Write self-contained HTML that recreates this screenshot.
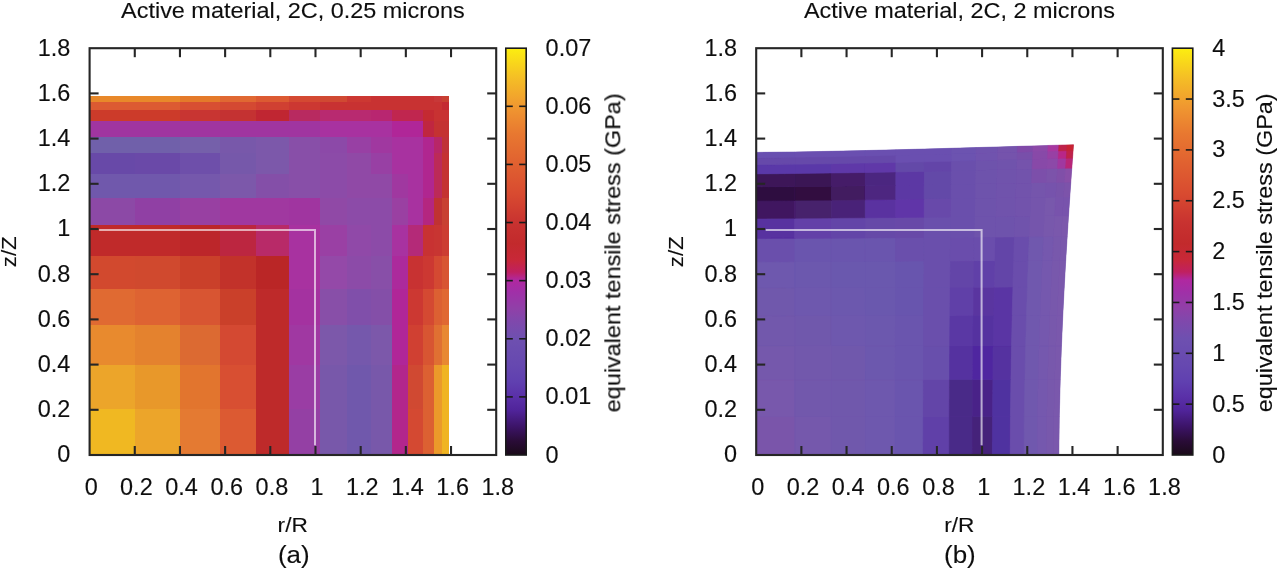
<!DOCTYPE html><html><head><meta charset="utf-8"><style>html,body{margin:0;padding:0;background:#fff;width:1280px;height:571px;overflow:hidden}svg{display:block}</style></head><body>
<svg width="1280" height="571" viewBox="0 0 1280 571" font-family="&quot;Liberation Sans&quot;, sans-serif">
<rect width="1280" height="571" fill="#fff"/>
<defs><filter id="bl" x="-5%" y="-5%" width="110%" height="110%"><feGaussianBlur stdDeviation="0.7"/></filter><filter id="tb" x="-2%" y="-2%" width="104%" height="104%"><feGaussianBlur stdDeviation="0.45"/></filter></defs>
<g filter="url(#bl)"><g shape-rendering="crispEdges"><rect x="89.60" y="409.12" width="46.16" height="46.18" fill="#f0b822"/><rect x="135.46" y="409.12" width="44.35" height="46.18" fill="#eca52a"/><rect x="179.50" y="409.12" width="40.51" height="46.18" fill="#e47a30"/><rect x="219.71" y="409.12" width="36.22" height="46.18" fill="#dc5a30"/><rect x="255.63" y="409.12" width="33.51" height="46.18" fill="#be2a2c"/><rect x="288.83" y="409.12" width="31.25" height="46.18" fill="#9440a4"/><rect x="319.78" y="409.12" width="27.63" height="46.18" fill="#7858aa"/><rect x="347.11" y="409.12" width="24.02" height="46.18" fill="#7058ac"/><rect x="370.83" y="409.12" width="21.31" height="46.18" fill="#7858aa"/><rect x="391.84" y="409.12" width="16.56" height="46.18" fill="#b2288c"/><rect x="408.10" y="409.12" width="15.66" height="46.18" fill="#d44830"/><rect x="423.46" y="409.12" width="11.14" height="46.18" fill="#dc6030"/><rect x="434.31" y="409.12" width="8.43" height="46.18" fill="#eb9a2c"/><rect x="442.44" y="409.12" width="6.62" height="46.18" fill="#f0b420"/><rect x="89.60" y="365.05" width="46.16" height="44.37" fill="#eca52a"/><rect x="135.46" y="365.05" width="44.35" height="44.37" fill="#e8982c"/><rect x="179.50" y="365.05" width="40.51" height="44.37" fill="#e2742e"/><rect x="219.71" y="365.05" width="36.22" height="44.37" fill="#d85030"/><rect x="255.63" y="365.05" width="33.51" height="44.37" fill="#be2a2c"/><rect x="288.83" y="365.05" width="31.25" height="44.37" fill="#9a3ca4"/><rect x="319.78" y="365.05" width="27.63" height="44.37" fill="#7858aa"/><rect x="347.11" y="365.05" width="24.02" height="44.37" fill="#7058ac"/><rect x="370.83" y="365.05" width="21.31" height="44.37" fill="#7858aa"/><rect x="391.84" y="365.05" width="16.56" height="44.37" fill="#b2288c"/><rect x="408.10" y="365.05" width="15.66" height="44.37" fill="#d04830"/><rect x="423.46" y="365.05" width="11.14" height="44.37" fill="#dc6030"/><rect x="434.31" y="365.05" width="8.43" height="44.37" fill="#eb9a2c"/><rect x="442.44" y="365.05" width="6.62" height="44.37" fill="#f0b420"/><rect x="89.60" y="324.82" width="46.16" height="40.53" fill="#e88a2e"/><rect x="135.46" y="324.82" width="44.35" height="40.53" fill="#e4822e"/><rect x="179.50" y="324.82" width="40.51" height="40.53" fill="#dc6a30"/><rect x="219.71" y="324.82" width="36.22" height="40.53" fill="#d44830"/><rect x="255.63" y="324.82" width="33.51" height="40.53" fill="#be2a2c"/><rect x="288.83" y="324.82" width="31.25" height="40.53" fill="#a038a2"/><rect x="319.78" y="324.82" width="27.63" height="40.53" fill="#7c58aa"/><rect x="347.11" y="324.82" width="24.02" height="40.53" fill="#7458ac"/><rect x="370.83" y="324.82" width="21.31" height="40.53" fill="#7c58aa"/><rect x="391.84" y="324.82" width="16.56" height="40.53" fill="#b02898"/><rect x="408.10" y="324.82" width="15.66" height="40.53" fill="#d04030"/><rect x="423.46" y="324.82" width="11.14" height="40.53" fill="#d85530"/><rect x="434.31" y="324.82" width="8.43" height="40.53" fill="#e07030"/><rect x="442.44" y="324.82" width="6.62" height="40.53" fill="#e88830"/><rect x="89.60" y="288.89" width="46.16" height="36.23" fill="#e06a30"/><rect x="135.46" y="288.89" width="44.35" height="36.23" fill="#de6430"/><rect x="179.50" y="288.89" width="40.51" height="36.23" fill="#d85530"/><rect x="219.71" y="288.89" width="36.22" height="36.23" fill="#ca402c"/><rect x="255.63" y="288.89" width="33.51" height="36.23" fill="#be2a2c"/><rect x="288.83" y="288.89" width="31.25" height="36.23" fill="#a432a0"/><rect x="319.78" y="288.89" width="27.63" height="36.23" fill="#8850a8"/><rect x="347.11" y="288.89" width="24.02" height="36.23" fill="#8050aa"/><rect x="370.83" y="288.89" width="21.31" height="36.23" fill="#8450a8"/><rect x="391.84" y="288.89" width="16.56" height="36.23" fill="#b02898"/><rect x="408.10" y="288.89" width="15.66" height="36.23" fill="#cc3830"/><rect x="423.46" y="288.89" width="11.14" height="36.23" fill="#d44830"/><rect x="434.31" y="288.89" width="8.43" height="36.23" fill="#dc6030"/><rect x="442.44" y="288.89" width="6.62" height="36.23" fill="#e06830"/><rect x="89.60" y="255.67" width="46.16" height="33.52" fill="#d24a2e"/><rect x="135.46" y="255.67" width="44.35" height="33.52" fill="#d0482e"/><rect x="179.50" y="255.67" width="40.51" height="33.52" fill="#ca402c"/><rect x="219.71" y="255.67" width="36.22" height="33.52" fill="#c2302c"/><rect x="255.63" y="255.67" width="33.51" height="33.52" fill="#ba2828"/><rect x="288.83" y="255.67" width="31.25" height="33.52" fill="#a830a0"/><rect x="319.78" y="255.67" width="27.63" height="33.52" fill="#9448a8"/><rect x="347.11" y="255.67" width="24.02" height="33.52" fill="#8c4ca8"/><rect x="370.83" y="255.67" width="21.31" height="33.52" fill="#8850a8"/><rect x="391.84" y="255.67" width="16.56" height="33.52" fill="#ac2c9c"/><rect x="408.10" y="255.67" width="15.66" height="33.52" fill="#c83030"/><rect x="423.46" y="255.67" width="11.14" height="33.52" fill="#cc3830"/><rect x="434.31" y="255.67" width="8.43" height="33.52" fill="#d44830"/><rect x="442.44" y="255.67" width="6.62" height="33.52" fill="#d85530"/><rect x="89.60" y="224.71" width="46.16" height="31.26" fill="#c02a2c"/><rect x="135.46" y="224.71" width="44.35" height="31.26" fill="#c02a2c"/><rect x="179.50" y="224.71" width="40.51" height="31.26" fill="#bc262a"/><rect x="219.71" y="224.71" width="36.22" height="31.26" fill="#bc2840"/><rect x="255.63" y="224.71" width="33.51" height="31.26" fill="#b82a68"/><rect x="288.83" y="224.71" width="31.25" height="31.26" fill="#a830a0"/><rect x="319.78" y="224.71" width="27.63" height="31.26" fill="#9a40a4"/><rect x="347.11" y="224.71" width="24.02" height="31.26" fill="#9048a8"/><rect x="370.83" y="224.71" width="21.31" height="31.26" fill="#8c4ca8"/><rect x="391.84" y="224.71" width="16.56" height="31.26" fill="#a830a0"/><rect x="408.10" y="224.71" width="15.66" height="31.26" fill="#b42a78"/><rect x="423.46" y="224.71" width="11.14" height="31.26" fill="#c83030"/><rect x="434.31" y="224.71" width="8.43" height="31.26" fill="#c83430"/><rect x="442.44" y="224.71" width="6.62" height="31.26" fill="#cc3c30"/><rect x="89.60" y="197.36" width="46.16" height="27.65" fill="#8c48a6"/><rect x="135.46" y="197.36" width="44.35" height="27.65" fill="#9040a4"/><rect x="179.50" y="197.36" width="40.51" height="27.65" fill="#9840a2"/><rect x="219.71" y="197.36" width="36.22" height="27.65" fill="#a038a0"/><rect x="255.63" y="197.36" width="33.51" height="27.65" fill="#a038a0"/><rect x="288.83" y="197.36" width="31.25" height="27.65" fill="#a035a0"/><rect x="319.78" y="197.36" width="27.63" height="27.65" fill="#9048a6"/><rect x="347.11" y="197.36" width="24.02" height="27.65" fill="#8c4ca8"/><rect x="370.83" y="197.36" width="21.31" height="27.65" fill="#8c4ca8"/><rect x="391.84" y="197.36" width="16.56" height="27.65" fill="#9a40a2"/><rect x="408.10" y="197.36" width="15.66" height="27.65" fill="#a830a0"/><rect x="423.46" y="197.36" width="11.14" height="27.65" fill="#b42880"/><rect x="434.31" y="197.36" width="8.43" height="27.65" fill="#c03030"/><rect x="442.44" y="197.36" width="6.62" height="27.65" fill="#c84030"/><rect x="89.60" y="173.63" width="46.16" height="24.03" fill="#7058ac"/><rect x="135.46" y="173.63" width="44.35" height="24.03" fill="#7058ac"/><rect x="179.50" y="173.63" width="40.51" height="24.03" fill="#7458ac"/><rect x="219.71" y="173.63" width="36.22" height="24.03" fill="#7c58aa"/><rect x="255.63" y="173.63" width="33.51" height="24.03" fill="#8450a8"/><rect x="288.83" y="173.63" width="31.25" height="24.03" fill="#8850a8"/><rect x="319.78" y="173.63" width="27.63" height="24.03" fill="#8c4ca8"/><rect x="347.11" y="173.63" width="24.02" height="24.03" fill="#9048a6"/><rect x="370.83" y="173.63" width="21.31" height="24.03" fill="#9048a6"/><rect x="391.84" y="173.63" width="16.56" height="24.03" fill="#a038a0"/><rect x="408.10" y="173.63" width="15.66" height="24.03" fill="#a830a0"/><rect x="423.46" y="173.63" width="11.14" height="24.03" fill="#b02890"/><rect x="434.31" y="173.63" width="8.43" height="24.03" fill="#bc2a58"/><rect x="442.44" y="173.63" width="6.62" height="24.03" fill="#c43030"/><rect x="89.60" y="152.61" width="46.16" height="21.32" fill="#6848a8"/><rect x="135.46" y="152.61" width="44.35" height="21.32" fill="#6a4aa8"/><rect x="179.50" y="152.61" width="40.51" height="21.32" fill="#6e50aa"/><rect x="219.71" y="152.61" width="36.22" height="21.32" fill="#7658aa"/><rect x="255.63" y="152.61" width="33.51" height="21.32" fill="#7c58aa"/><rect x="288.83" y="152.61" width="31.25" height="21.32" fill="#8850a8"/><rect x="319.78" y="152.61" width="27.63" height="21.32" fill="#8c4ca8"/><rect x="347.11" y="152.61" width="24.02" height="21.32" fill="#9048a6"/><rect x="370.83" y="152.61" width="21.31" height="21.32" fill="#9840a4"/><rect x="391.84" y="152.61" width="16.56" height="21.32" fill="#a830a0"/><rect x="408.10" y="152.61" width="15.66" height="21.32" fill="#a830a0"/><rect x="423.46" y="152.61" width="11.14" height="21.32" fill="#b02890"/><rect x="434.31" y="152.61" width="8.43" height="21.32" fill="#bc2a58"/><rect x="442.44" y="152.61" width="6.62" height="21.32" fill="#c43030"/><rect x="89.60" y="136.34" width="46.16" height="16.57" fill="#7060aa"/><rect x="135.46" y="136.34" width="44.35" height="16.57" fill="#7060aa"/><rect x="179.50" y="136.34" width="40.51" height="16.57" fill="#7460aa"/><rect x="219.71" y="136.34" width="36.22" height="16.57" fill="#7858aa"/><rect x="255.63" y="136.34" width="33.51" height="16.57" fill="#7c58aa"/><rect x="288.83" y="136.34" width="31.25" height="16.57" fill="#8850a8"/><rect x="319.78" y="136.34" width="27.63" height="16.57" fill="#8c4aa8"/><rect x="347.11" y="136.34" width="24.02" height="16.57" fill="#9840a4"/><rect x="370.83" y="136.34" width="21.31" height="16.57" fill="#a038a0"/><rect x="391.84" y="136.34" width="16.56" height="16.57" fill="#a830a0"/><rect x="408.10" y="136.34" width="15.66" height="16.57" fill="#a830a0"/><rect x="423.46" y="136.34" width="11.14" height="16.57" fill="#b02890"/><rect x="434.31" y="136.34" width="8.43" height="16.57" fill="#b82868"/><rect x="442.44" y="136.34" width="6.62" height="16.57" fill="#c03038"/><rect x="89.60" y="120.97" width="46.16" height="15.67" fill="#a035a0"/><rect x="135.46" y="120.97" width="44.35" height="15.67" fill="#a035a0"/><rect x="179.50" y="120.97" width="40.51" height="15.67" fill="#a035a0"/><rect x="219.71" y="120.97" width="36.22" height="15.67" fill="#a035a0"/><rect x="255.63" y="120.97" width="33.51" height="15.67" fill="#a035a0"/><rect x="288.83" y="120.97" width="31.25" height="15.67" fill="#a035a0"/><rect x="319.78" y="120.97" width="27.63" height="15.67" fill="#a830a0"/><rect x="347.11" y="120.97" width="24.02" height="15.67" fill="#a830a0"/><rect x="370.83" y="120.97" width="21.31" height="15.67" fill="#a830a0"/><rect x="391.84" y="120.97" width="16.56" height="15.67" fill="#b02898"/><rect x="408.10" y="120.97" width="15.66" height="15.67" fill="#b02898"/><rect x="423.46" y="120.97" width="11.14" height="15.67" fill="#c02840"/><rect x="434.31" y="120.97" width="8.43" height="15.67" fill="#c43030"/><rect x="442.44" y="120.97" width="6.62" height="15.67" fill="#c43030"/><rect x="89.60" y="110.12" width="46.16" height="11.15" fill="#cc3a2c"/><rect x="135.46" y="110.12" width="44.35" height="11.15" fill="#cc3a2c"/><rect x="179.50" y="110.12" width="40.51" height="11.15" fill="#c83430"/><rect x="219.71" y="110.12" width="36.22" height="11.15" fill="#c43030"/><rect x="255.63" y="110.12" width="33.51" height="11.15" fill="#c02830"/><rect x="288.83" y="110.12" width="31.25" height="11.15" fill="#b82a60"/><rect x="319.78" y="110.12" width="27.63" height="11.15" fill="#b82a70"/><rect x="347.11" y="110.12" width="24.02" height="11.15" fill="#b82a70"/><rect x="370.83" y="110.12" width="21.31" height="11.15" fill="#b82870"/><rect x="391.84" y="110.12" width="16.56" height="11.15" fill="#c02850"/><rect x="408.10" y="110.12" width="15.66" height="11.15" fill="#c02850"/><rect x="423.46" y="110.12" width="11.14" height="11.15" fill="#c42c30"/><rect x="434.31" y="110.12" width="8.43" height="11.15" fill="#c83030"/><rect x="442.44" y="110.12" width="6.62" height="11.15" fill="#c83030"/><rect x="89.60" y="101.99" width="46.16" height="8.44" fill="#dc5a30"/><rect x="135.46" y="101.99" width="44.35" height="8.44" fill="#dc5a30"/><rect x="179.50" y="101.99" width="40.51" height="8.44" fill="#d85030"/><rect x="219.71" y="101.99" width="36.22" height="8.44" fill="#d44830"/><rect x="255.63" y="101.99" width="33.51" height="8.44" fill="#d04030"/><rect x="288.83" y="101.99" width="31.25" height="8.44" fill="#cc3830"/><rect x="319.78" y="101.99" width="27.63" height="8.44" fill="#c83030"/><rect x="347.11" y="101.99" width="24.02" height="8.44" fill="#c83030"/><rect x="370.83" y="101.99" width="21.31" height="8.44" fill="#c83030"/><rect x="391.84" y="101.99" width="16.56" height="8.44" fill="#c83030"/><rect x="408.10" y="101.99" width="15.66" height="8.44" fill="#c83030"/><rect x="423.46" y="101.99" width="11.14" height="8.44" fill="#c83030"/><rect x="434.31" y="101.99" width="8.43" height="8.44" fill="#c83030"/><rect x="442.44" y="101.99" width="6.62" height="8.44" fill="#c42c30"/><rect x="89.60" y="95.66" width="46.16" height="6.63" fill="#e8882a"/><rect x="135.46" y="95.66" width="44.35" height="6.63" fill="#e8882a"/><rect x="179.50" y="95.66" width="40.51" height="6.63" fill="#e47a2c"/><rect x="219.71" y="95.66" width="36.22" height="6.63" fill="#e06830"/><rect x="255.63" y="95.66" width="33.51" height="6.63" fill="#dc5a30"/><rect x="288.83" y="95.66" width="31.25" height="6.63" fill="#d44a30"/><rect x="319.78" y="95.66" width="27.63" height="6.63" fill="#d04a30"/><rect x="347.11" y="95.66" width="24.02" height="6.63" fill="#cc3830"/><rect x="370.83" y="95.66" width="21.31" height="6.63" fill="#c83030"/><rect x="391.84" y="95.66" width="16.56" height="6.63" fill="#c83030"/><rect x="408.10" y="95.66" width="15.66" height="6.63" fill="#c83030"/><rect x="423.46" y="95.66" width="11.14" height="6.63" fill="#c83030"/><rect x="434.31" y="95.66" width="8.43" height="6.63" fill="#c83838"/><rect x="442.44" y="95.66" width="6.62" height="6.63" fill="#c84030"/></g><g><polygon points="756.20,455.00 794.58,455.00 831.46,455.00 865.14,455.00 895.26,455.00 923.15,455.00 949.20,455.00 972.28,455.00 992.36,455.00 1010.19,455.00 1024.04,455.00 1037.16,455.00 1046.44,455.00 1053.42,455.00 1058.85,455.00 1059.30,416.51 1060.25,379.50 1061.47,345.63 1062.81,315.23 1064.24,286.93 1065.74,260.30 1067.19,236.51 1068.54,215.62 1069.80,196.88 1070.82,182.19 1071.82,168.17 1072.54,158.17 1073.10,150.61 1073.54,144.70 1067.09,144.89 1058.90,145.13 1048.12,145.45 1033.12,145.89 1017.56,146.35 997.87,146.93 976.16,147.56 951.68,148.26 924.54,149.02 895.93,149.77 865.39,150.53 831.52,151.28 794.59,151.95 756.20,152.38 756.20,157.77 756.20,164.69 756.20,173.91 756.20,186.95 756.20,200.73 756.20,218.51 756.20,238.54 756.20,261.59 756.20,287.65 756.20,315.58 756.20,345.76 756.20,379.53 756.20,416.51" fill="#6a50ac"/><polygon points="756.20,455.00 794.58,455.00 794.58,416.51 756.20,416.51" fill="#7a55aa" stroke="#7a55aa" stroke-width="0.5"/><polygon points="794.58,455.00 831.46,455.00 831.46,416.51 794.58,416.51" fill="#7458ac" stroke="#7458ac" stroke-width="0.5"/><polygon points="831.46,455.00 865.14,455.00 865.15,416.51 831.46,416.51" fill="#7058ac" stroke="#7058ac" stroke-width="0.5"/><polygon points="865.14,455.00 895.26,455.00 895.28,416.51 865.15,416.51" fill="#6e58ae" stroke="#6e58ae" stroke-width="0.5"/><polygon points="895.26,455.00 923.15,455.00 923.19,416.51 895.28,416.51" fill="#6a55ae" stroke="#6a55ae" stroke-width="0.5"/><polygon points="923.15,455.00 949.20,455.00 949.28,416.51 923.19,416.51" fill="#6040a8" stroke="#6040a8" stroke-width="0.5"/><polygon points="949.20,455.00 972.28,455.00 972.39,416.51 949.28,416.51" fill="#4a2a88" stroke="#4a2a88" stroke-width="0.5"/><polygon points="972.28,455.00 992.36,455.00 992.52,416.51 972.39,416.51" fill="#45207a" stroke="#45207a" stroke-width="0.5"/><polygon points="992.36,455.00 1010.19,455.00 1010.42,416.51 992.52,416.51" fill="#5030a0" stroke="#5030a0" stroke-width="0.5"/><polygon points="1010.19,455.00 1024.04,455.00 1024.32,416.51 1010.42,416.51" fill="#6a4eac" stroke="#6a4eac" stroke-width="0.5"/><polygon points="1024.04,455.00 1037.16,455.00 1037.49,416.51 1024.32,416.51" fill="#7058ae" stroke="#7058ae" stroke-width="0.5"/><polygon points="1037.16,455.00 1046.44,455.00 1046.82,416.51 1037.49,416.51" fill="#7458ae" stroke="#7458ae" stroke-width="0.5"/><polygon points="1046.44,455.00 1053.42,455.00 1053.83,416.51 1046.82,416.51" fill="#7858ac" stroke="#7858ac" stroke-width="0.5"/><polygon points="1053.42,455.00 1058.85,455.00 1059.30,416.51 1053.83,416.51" fill="#7a58ac" stroke="#7a58ac" stroke-width="0.5"/><polygon points="756.20,416.51 794.58,416.51 794.58,379.53 756.20,379.53" fill="#7858ac" stroke="#7858ac" stroke-width="0.5"/><polygon points="794.58,416.51 831.46,416.51 831.46,379.52 794.58,379.53" fill="#7258ac" stroke="#7258ac" stroke-width="0.5"/><polygon points="831.46,416.51 865.15,416.51 865.16,379.52 831.46,379.52" fill="#7058ac" stroke="#7058ac" stroke-width="0.5"/><polygon points="865.15,416.51 895.28,416.51 895.32,379.52 865.16,379.52" fill="#6e58ae" stroke="#6e58ae" stroke-width="0.5"/><polygon points="895.28,416.51 923.19,416.51 923.28,379.52 895.32,379.52" fill="#6a55ae" stroke="#6a55ae" stroke-width="0.5"/><polygon points="923.19,416.51 949.28,416.51 949.44,379.51 923.28,379.52" fill="#6444a8" stroke="#6444a8" stroke-width="0.5"/><polygon points="949.28,416.51 972.39,416.51 972.64,379.51 949.44,379.51" fill="#4a2a88" stroke="#4a2a88" stroke-width="0.5"/><polygon points="972.39,416.51 992.52,416.51 992.88,379.51 972.64,379.51" fill="#4a2488" stroke="#4a2488" stroke-width="0.5"/><polygon points="992.52,416.51 1010.42,416.51 1010.89,379.51 992.88,379.51" fill="#5030a0" stroke="#5030a0" stroke-width="0.5"/><polygon points="1010.42,416.51 1024.32,416.51 1024.91,379.50 1010.89,379.51" fill="#6a4eac" stroke="#6a4eac" stroke-width="0.5"/><polygon points="1024.32,416.51 1037.49,416.51 1038.20,379.50 1024.91,379.50" fill="#7058ae" stroke="#7058ae" stroke-width="0.5"/><polygon points="1037.49,416.51 1046.82,416.51 1047.63,379.50 1038.20,379.50" fill="#7458ae" stroke="#7458ae" stroke-width="0.5"/><polygon points="1046.82,416.51 1053.83,416.51 1054.72,379.50 1047.63,379.50" fill="#7858ac" stroke="#7858ac" stroke-width="0.5"/><polygon points="1053.83,416.51 1059.30,416.51 1060.25,379.50 1054.72,379.50" fill="#7a58ac" stroke="#7a58ac" stroke-width="0.5"/><polygon points="756.20,379.53 794.58,379.53 794.58,345.76 756.20,345.76" fill="#7558ac" stroke="#7558ac" stroke-width="0.5"/><polygon points="794.58,379.53 831.46,379.52 831.47,345.74 794.58,345.76" fill="#7258ac" stroke="#7258ac" stroke-width="0.5"/><polygon points="831.46,379.52 865.16,379.52 865.18,345.73 831.47,345.74" fill="#7058ac" stroke="#7058ac" stroke-width="0.5"/><polygon points="865.16,379.52 895.32,379.52 895.38,345.72 865.18,345.73" fill="#6c58ae" stroke="#6c58ae" stroke-width="0.5"/><polygon points="895.32,379.52 923.28,379.52 923.40,345.70 895.38,345.72" fill="#6a55ae" stroke="#6a55ae" stroke-width="0.5"/><polygon points="923.28,379.52 949.44,379.51 949.65,345.69 923.40,345.70" fill="#6850ac" stroke="#6850ac" stroke-width="0.5"/><polygon points="949.44,379.51 972.64,379.51 972.97,345.68 949.65,345.69" fill="#5530a0" stroke="#5530a0" stroke-width="0.5"/><polygon points="972.64,379.51 992.88,379.51 993.34,345.67 972.97,345.68" fill="#5028a0" stroke="#5028a0" stroke-width="0.5"/><polygon points="992.88,379.51 1010.89,379.51 1011.50,345.66 993.34,345.67" fill="#5530a0" stroke="#5530a0" stroke-width="0.5"/><polygon points="1010.89,379.51 1024.91,379.50 1025.66,345.65 1011.50,345.66" fill="#6a4eac" stroke="#6a4eac" stroke-width="0.5"/><polygon points="1024.91,379.50 1038.20,379.50 1039.11,345.64 1025.66,345.65" fill="#7058ae" stroke="#7058ae" stroke-width="0.5"/><polygon points="1038.20,379.50 1047.63,379.50 1048.66,345.64 1039.11,345.64" fill="#7458ae" stroke="#7458ae" stroke-width="0.5"/><polygon points="1047.63,379.50 1054.72,379.50 1055.85,345.63 1048.66,345.64" fill="#7858ac" stroke="#7858ac" stroke-width="0.5"/><polygon points="1054.72,379.50 1060.25,379.50 1061.47,345.63 1055.85,345.63" fill="#7a58ac" stroke="#7a58ac" stroke-width="0.5"/><polygon points="756.20,345.76 794.58,345.76 794.58,315.56 756.20,315.58" fill="#7258ac" stroke="#7258ac" stroke-width="0.5"/><polygon points="794.58,345.76 831.47,345.74 831.47,315.53 794.58,315.56" fill="#7058ac" stroke="#7058ac" stroke-width="0.5"/><polygon points="831.47,345.74 865.18,345.73 865.21,315.50 831.47,315.53" fill="#6e58ae" stroke="#6e58ae" stroke-width="0.5"/><polygon points="865.18,345.73 895.38,345.72 895.44,315.46 865.21,315.50" fill="#6c58ae" stroke="#6c58ae" stroke-width="0.5"/><polygon points="895.38,345.72 923.40,345.70 923.53,315.43 895.44,315.46" fill="#6a55ae" stroke="#6a55ae" stroke-width="0.5"/><polygon points="923.40,345.70 949.65,345.69 949.87,315.39 923.53,315.43" fill="#6a50ac" stroke="#6a50ac" stroke-width="0.5"/><polygon points="949.65,345.69 972.97,345.68 973.32,315.36 949.87,315.39" fill="#5a38a4" stroke="#5a38a4" stroke-width="0.5"/><polygon points="972.97,345.68 993.34,345.67 993.84,315.33 973.32,315.36" fill="#5530a0" stroke="#5530a0" stroke-width="0.5"/><polygon points="993.34,345.67 1011.50,345.66 1012.18,315.31 993.84,315.33" fill="#5a35a4" stroke="#5a35a4" stroke-width="0.5"/><polygon points="1011.50,345.66 1025.66,345.65 1026.49,315.29 1012.18,315.31" fill="#6a4eac" stroke="#6a4eac" stroke-width="0.5"/><polygon points="1025.66,345.65 1039.11,345.64 1040.11,315.27 1026.49,315.29" fill="#7058ae" stroke="#7058ae" stroke-width="0.5"/><polygon points="1039.11,345.64 1048.66,345.64 1049.80,315.25 1040.11,315.27" fill="#7458ae" stroke="#7458ae" stroke-width="0.5"/><polygon points="1048.66,345.64 1055.85,345.63 1057.10,315.24 1049.80,315.25" fill="#7858ac" stroke="#7858ac" stroke-width="0.5"/><polygon points="1055.85,345.63 1061.47,345.63 1062.81,315.23 1057.10,315.24" fill="#7a58ac" stroke="#7a58ac" stroke-width="0.5"/><polygon points="756.20,315.58 794.58,315.56 794.58,287.61 756.20,287.65" fill="#7058ac" stroke="#7058ac" stroke-width="0.5"/><polygon points="794.58,315.56 831.47,315.53 831.48,287.55 794.58,287.61" fill="#6e58ae" stroke="#6e58ae" stroke-width="0.5"/><polygon points="831.47,315.53 865.21,315.50 865.23,287.48 831.48,287.55" fill="#6c58ae" stroke="#6c58ae" stroke-width="0.5"/><polygon points="865.21,315.50 895.44,315.46 895.50,287.41 865.23,287.48" fill="#6a58ae" stroke="#6a58ae" stroke-width="0.5"/><polygon points="895.44,315.46 923.53,315.43 923.66,287.33 895.50,287.41" fill="#6855ae" stroke="#6855ae" stroke-width="0.5"/><polygon points="923.53,315.43 949.87,315.39 950.11,287.26 923.66,287.33" fill="#6a50ac" stroke="#6a50ac" stroke-width="0.5"/><polygon points="949.87,315.39 973.32,315.36 973.70,287.20 950.11,287.26" fill="#6040a8" stroke="#6040a8" stroke-width="0.5"/><polygon points="973.32,315.36 993.84,315.33 994.38,287.14 973.70,287.20" fill="#5a35a0" stroke="#5a35a0" stroke-width="0.5"/><polygon points="993.84,315.33 1012.18,315.31 1012.90,287.08 994.38,287.14" fill="#5a35a4" stroke="#5a35a4" stroke-width="0.5"/><polygon points="1012.18,315.31 1026.49,315.29 1027.38,287.04 1012.90,287.08" fill="#6a4eac" stroke="#6a4eac" stroke-width="0.5"/><polygon points="1026.49,315.29 1040.11,315.27 1041.19,287.00 1027.38,287.04" fill="#7058ae" stroke="#7058ae" stroke-width="0.5"/><polygon points="1040.11,315.27 1049.80,315.25 1051.02,286.97 1041.19,287.00" fill="#7458ae" stroke="#7458ae" stroke-width="0.5"/><polygon points="1049.80,315.25 1057.10,315.24 1058.44,286.94 1051.02,286.97" fill="#7858ac" stroke="#7858ac" stroke-width="0.5"/><polygon points="1057.10,315.24 1062.81,315.23 1064.24,286.93 1058.44,286.94" fill="#7a58ac" stroke="#7a58ac" stroke-width="0.5"/><polygon points="756.20,287.65 794.58,287.61 794.58,261.52 756.20,261.59" fill="#6e58ae" stroke="#6e58ae" stroke-width="0.5"/><polygon points="794.58,287.61 831.48,287.55 831.48,261.41 794.58,261.52" fill="#6c58ae" stroke="#6c58ae" stroke-width="0.5"/><polygon points="831.48,287.55 865.23,287.48 865.26,261.28 831.48,261.41" fill="#6a58ae" stroke="#6a58ae" stroke-width="0.5"/><polygon points="865.23,287.48 895.50,287.41 895.57,261.15 865.26,261.28" fill="#6a58ae" stroke="#6a58ae" stroke-width="0.5"/><polygon points="895.50,287.41 923.66,287.33 923.80,261.02 895.57,261.15" fill="#6855ae" stroke="#6855ae" stroke-width="0.5"/><polygon points="923.66,287.33 950.11,287.26 950.37,260.90 923.80,261.02" fill="#6a50ac" stroke="#6a50ac" stroke-width="0.5"/><polygon points="950.11,287.26 973.70,287.20 974.10,260.78 950.37,260.90" fill="#6444a8" stroke="#6444a8" stroke-width="0.5"/><polygon points="973.70,287.20 994.38,287.14 994.95,260.67 974.10,260.78" fill="#6040a8" stroke="#6040a8" stroke-width="0.5"/><polygon points="994.38,287.14 1012.90,287.08 1013.65,260.57 994.95,260.67" fill="#6444a8" stroke="#6444a8" stroke-width="0.5"/><polygon points="1012.90,287.08 1027.38,287.04 1028.31,260.50 1013.65,260.57" fill="#6a4eac" stroke="#6a4eac" stroke-width="0.5"/><polygon points="1027.38,287.04 1041.19,287.00 1042.31,260.42 1028.31,260.50" fill="#7058ae" stroke="#7058ae" stroke-width="0.5"/><polygon points="1041.19,287.00 1051.02,286.97 1052.29,260.37 1042.31,260.42" fill="#7458ae" stroke="#7458ae" stroke-width="0.5"/><polygon points="1051.02,286.97 1058.44,286.94 1059.84,260.33 1052.29,260.37" fill="#7858ac" stroke="#7858ac" stroke-width="0.5"/><polygon points="1058.44,286.94 1064.24,286.93 1065.74,260.30 1059.84,260.33" fill="#7a58ac" stroke="#7a58ac" stroke-width="0.5"/><polygon points="756.20,261.59 794.58,261.52 794.58,238.43 756.20,238.54" fill="#6a50ac" stroke="#6a50ac" stroke-width="0.5"/><polygon points="794.58,261.52 831.48,261.41 831.49,238.25 794.58,238.43" fill="#6a55ae" stroke="#6a55ae" stroke-width="0.5"/><polygon points="831.48,261.41 865.26,261.28 865.28,238.05 831.49,238.25" fill="#6a55ae" stroke="#6a55ae" stroke-width="0.5"/><polygon points="865.26,261.28 895.57,261.15 895.64,237.85 865.28,238.05" fill="#6a55ae" stroke="#6a55ae" stroke-width="0.5"/><polygon points="895.57,261.15 923.80,261.02 923.94,237.65 895.64,237.85" fill="#6a50ac" stroke="#6a50ac" stroke-width="0.5"/><polygon points="923.80,261.02 950.37,260.90 950.61,237.45 923.94,237.65" fill="#6a50ac" stroke="#6a50ac" stroke-width="0.5"/><polygon points="950.37,260.90 974.10,260.78 974.48,237.27 950.61,237.45" fill="#6a4eac" stroke="#6a4eac" stroke-width="0.5"/><polygon points="974.10,260.78 994.95,260.67 995.49,237.10 974.48,237.27" fill="#6a4eac" stroke="#6a4eac" stroke-width="0.5"/><polygon points="994.95,260.67 1013.65,260.57 1014.38,236.95 995.49,237.10" fill="#6444a8" stroke="#6444a8" stroke-width="0.5"/><polygon points="1013.65,260.57 1028.31,260.50 1029.20,236.83 1014.38,236.95" fill="#6a4eac" stroke="#6a4eac" stroke-width="0.5"/><polygon points="1028.31,260.50 1042.31,260.42 1043.39,236.71 1029.20,236.83" fill="#7058ae" stroke="#7058ae" stroke-width="0.5"/><polygon points="1042.31,260.42 1052.29,260.37 1053.52,236.62 1043.39,236.71" fill="#7458ae" stroke="#7458ae" stroke-width="0.5"/><polygon points="1052.29,260.37 1059.84,260.33 1061.19,236.56 1053.52,236.62" fill="#7858ac" stroke="#7858ac" stroke-width="0.5"/><polygon points="1059.84,260.33 1065.74,260.30 1067.19,236.51 1061.19,236.56" fill="#7a58ac" stroke="#7a58ac" stroke-width="0.5"/><polygon points="756.20,238.54 794.58,238.43 794.58,218.34 756.20,218.51" fill="#5830a0" stroke="#5830a0" stroke-width="0.5"/><polygon points="794.58,238.43 831.49,238.25 831.50,218.09 794.58,218.34" fill="#6440a8" stroke="#6440a8" stroke-width="0.5"/><polygon points="831.49,238.25 865.28,238.05 865.31,217.81 831.50,218.09" fill="#6444a8" stroke="#6444a8" stroke-width="0.5"/><polygon points="865.28,238.05 895.64,237.85 895.70,217.53 865.31,217.81" fill="#6648a8" stroke="#6648a8" stroke-width="0.5"/><polygon points="895.64,237.85 923.94,237.65 924.07,217.24 895.70,217.53" fill="#6848a8" stroke="#6848a8" stroke-width="0.5"/><polygon points="923.94,237.65 950.61,237.45 950.84,216.96 924.07,217.24" fill="#6a50ac" stroke="#6a50ac" stroke-width="0.5"/><polygon points="950.61,237.45 974.48,237.27 974.84,216.69 950.84,216.96" fill="#6a50ac" stroke="#6a50ac" stroke-width="0.5"/><polygon points="974.48,237.27 995.49,237.10 996.00,216.45 974.84,216.69" fill="#6e52ac" stroke="#6e52ac" stroke-width="0.5"/><polygon points="995.49,237.10 1014.38,236.95 1015.05,216.24 996.00,216.45" fill="#6e52ac" stroke="#6e52ac" stroke-width="0.5"/><polygon points="1014.38,236.95 1029.20,236.83 1030.04,216.06 1015.05,216.24" fill="#7052ac" stroke="#7052ac" stroke-width="0.5"/><polygon points="1029.20,236.83 1043.39,236.71 1044.40,215.90 1030.04,216.06" fill="#7455ac" stroke="#7455ac" stroke-width="0.5"/><polygon points="1043.39,236.71 1053.52,236.62 1054.66,215.78 1044.40,215.90" fill="#7858ac" stroke="#7858ac" stroke-width="0.5"/><polygon points="1053.52,236.62 1061.19,236.56 1062.44,215.69 1054.66,215.78" fill="#7a58ac" stroke="#7a58ac" stroke-width="0.5"/><polygon points="1061.19,236.56 1067.19,236.51 1068.54,215.62 1062.44,215.69" fill="#7c58ac" stroke="#7c58ac" stroke-width="0.5"/><polygon points="756.20,218.51 794.58,218.34 794.58,200.51 756.20,200.73" fill="#401860" stroke="#401860" stroke-width="0.5"/><polygon points="794.58,218.34 831.50,218.09 831.50,200.18 794.58,200.51" fill="#46206c" stroke="#46206c" stroke-width="0.5"/><polygon points="831.50,218.09 865.31,217.81 865.33,199.80 831.50,200.18" fill="#4a2478" stroke="#4a2478" stroke-width="0.5"/><polygon points="865.31,217.81 895.70,217.53 895.76,199.42 865.33,199.80" fill="#5a30a0" stroke="#5a30a0" stroke-width="0.5"/><polygon points="895.70,217.53 924.07,217.24 924.19,199.04 895.76,199.42" fill="#6034a8" stroke="#6034a8" stroke-width="0.5"/><polygon points="924.07,217.24 950.84,216.96 951.05,198.66 924.19,199.04" fill="#6848aa" stroke="#6848aa" stroke-width="0.5"/><polygon points="950.84,216.96 974.84,216.69 975.17,198.31 951.05,198.66" fill="#6a50ac" stroke="#6a50ac" stroke-width="0.5"/><polygon points="974.84,216.69 996.00,216.45 996.47,197.99 975.17,198.31" fill="#6e52ac" stroke="#6e52ac" stroke-width="0.5"/><polygon points="996.00,216.45 1015.05,216.24 1015.68,197.70 996.47,197.99" fill="#7052ac" stroke="#7052ac" stroke-width="0.5"/><polygon points="1015.05,216.24 1030.04,216.06 1030.82,197.47 1015.68,197.70" fill="#7252ac" stroke="#7252ac" stroke-width="0.5"/><polygon points="1030.04,216.06 1044.40,215.90 1045.34,197.25 1030.82,197.47" fill="#7455ac" stroke="#7455ac" stroke-width="0.5"/><polygon points="1044.40,215.90 1054.66,215.78 1055.73,197.09 1045.34,197.25" fill="#7858ac" stroke="#7858ac" stroke-width="0.5"/><polygon points="1054.66,215.78 1062.44,215.69 1063.62,196.97 1055.73,197.09" fill="#7852ac" stroke="#7852ac" stroke-width="0.5"/><polygon points="1062.44,215.69 1068.54,215.62 1069.80,196.88 1063.62,196.97" fill="#7852ac" stroke="#7852ac" stroke-width="0.5"/><polygon points="756.20,200.73 794.58,200.51 794.58,186.68 756.20,186.95" fill="#2e0c40" stroke="#2e0c40" stroke-width="0.5"/><polygon points="794.58,200.51 831.50,200.18 831.50,186.26 794.58,186.68" fill="#300c40" stroke="#300c40" stroke-width="0.5"/><polygon points="831.50,200.18 865.33,199.80 865.34,185.80 831.50,186.26" fill="#421a60" stroke="#421a60" stroke-width="0.5"/><polygon points="865.33,199.80 895.76,199.42 895.81,185.33 865.34,185.80" fill="#4e2880" stroke="#4e2880" stroke-width="0.5"/><polygon points="895.76,199.42 924.19,199.04 924.28,184.86 895.81,185.33" fill="#5c38a4" stroke="#5c38a4" stroke-width="0.5"/><polygon points="924.19,199.04 951.05,198.66 951.22,184.40 924.28,184.86" fill="#6448a8" stroke="#6448a8" stroke-width="0.5"/><polygon points="951.05,198.66 975.17,198.31 975.44,183.96 951.22,184.40" fill="#6a50ac" stroke="#6a50ac" stroke-width="0.5"/><polygon points="975.17,198.31 996.47,197.99 996.85,183.57 975.44,183.96" fill="#6e52ac" stroke="#6e52ac" stroke-width="0.5"/><polygon points="996.47,197.99 1015.68,197.70 1016.20,183.21 996.85,183.57" fill="#7052ac" stroke="#7052ac" stroke-width="0.5"/><polygon points="1015.68,197.70 1030.82,197.47 1031.45,182.93 1016.20,183.21" fill="#7252ac" stroke="#7252ac" stroke-width="0.5"/><polygon points="1030.82,197.47 1045.34,197.25 1046.10,182.66 1031.45,182.93" fill="#7455ac" stroke="#7455ac" stroke-width="0.5"/><polygon points="1045.34,197.25 1055.73,197.09 1056.60,182.46 1046.10,182.66" fill="#7652ac" stroke="#7652ac" stroke-width="0.5"/><polygon points="1055.73,197.09 1063.62,196.97 1064.57,182.31 1056.60,182.46" fill="#7852aa" stroke="#7852aa" stroke-width="0.5"/><polygon points="1063.62,196.97 1069.80,196.88 1070.82,182.19 1064.57,182.31" fill="#7c52aa" stroke="#7c52aa" stroke-width="0.5"/><polygon points="756.20,186.95 794.58,186.68 794.58,173.59 756.20,173.91" fill="#3c1858" stroke="#3c1858" stroke-width="0.5"/><polygon points="794.58,186.68 831.50,186.26 831.51,173.08 794.58,173.59" fill="#3a1555" stroke="#3a1555" stroke-width="0.5"/><polygon points="831.50,186.26 865.34,185.80 865.36,172.52 831.51,173.08" fill="#441c68" stroke="#441c68" stroke-width="0.5"/><polygon points="865.34,185.80 895.81,185.33 895.85,171.96 865.36,172.52" fill="#4c2680" stroke="#4c2680" stroke-width="0.5"/><polygon points="895.81,185.33 924.28,184.86 924.38,171.39 895.85,171.96" fill="#5c38a4" stroke="#5c38a4" stroke-width="0.5"/><polygon points="924.28,184.86 951.22,184.40 951.39,170.83 924.38,171.39" fill="#6448a8" stroke="#6448a8" stroke-width="0.5"/><polygon points="951.22,184.40 975.44,183.96 975.70,170.31 951.39,170.83" fill="#6a50ac" stroke="#6a50ac" stroke-width="0.5"/><polygon points="975.44,183.96 996.85,183.57 997.23,169.83 975.70,170.31" fill="#6e52ac" stroke="#6e52ac" stroke-width="0.5"/><polygon points="996.85,183.57 1016.20,183.21 1016.70,169.40 997.23,169.83" fill="#7052ac" stroke="#7052ac" stroke-width="0.5"/><polygon points="1016.20,183.21 1031.45,182.93 1032.06,169.06 1016.70,169.40" fill="#7252ac" stroke="#7252ac" stroke-width="0.5"/><polygon points="1031.45,182.93 1046.10,182.66 1046.84,168.73 1032.06,169.06" fill="#7c50aa" stroke="#7c50aa" stroke-width="0.5"/><polygon points="1046.10,182.66 1056.60,182.46 1057.45,168.49 1046.84,168.73" fill="#7c52aa" stroke="#7c52aa" stroke-width="0.5"/><polygon points="1056.60,182.46 1064.57,182.31 1065.50,168.31 1057.45,168.49" fill="#8050a8" stroke="#8050a8" stroke-width="0.5"/><polygon points="1064.57,182.31 1070.82,182.19 1071.82,168.17 1065.50,168.31" fill="#8850a8" stroke="#8850a8" stroke-width="0.5"/><polygon points="756.20,173.91 794.58,173.59 794.59,164.32 756.20,164.69" fill="#5a38a8" stroke="#5a38a8" stroke-width="0.5"/><polygon points="794.58,173.59 831.51,173.08 831.51,163.75 794.59,164.32" fill="#5a38a8" stroke="#5a38a8" stroke-width="0.5"/><polygon points="831.51,173.08 865.36,172.52 865.37,163.12 831.51,163.75" fill="#5e38a8" stroke="#5e38a8" stroke-width="0.5"/><polygon points="865.36,172.52 895.85,171.96 895.88,162.48 865.37,163.12" fill="#6038a8" stroke="#6038a8" stroke-width="0.5"/><polygon points="895.85,171.96 924.38,171.39 924.45,161.83 895.88,162.48" fill="#6448a8" stroke="#6448a8" stroke-width="0.5"/><polygon points="924.38,171.39 951.39,170.83 951.51,161.19 924.45,161.83" fill="#6444a8" stroke="#6444a8" stroke-width="0.5"/><polygon points="951.39,170.83 975.70,170.31 975.89,160.60 951.51,161.19" fill="#6a50ac" stroke="#6a50ac" stroke-width="0.5"/><polygon points="975.70,170.31 997.23,169.83 997.50,160.06 975.89,160.60" fill="#6e52ac" stroke="#6e52ac" stroke-width="0.5"/><polygon points="997.23,169.83 1016.70,169.40 1017.06,159.57 997.50,160.06" fill="#7052ac" stroke="#7052ac" stroke-width="0.5"/><polygon points="1016.70,169.40 1032.06,169.06 1032.51,159.18 1017.06,159.57" fill="#7452ac" stroke="#7452ac" stroke-width="0.5"/><polygon points="1032.06,169.06 1046.84,168.73 1047.39,158.80 1032.51,159.18" fill="#8848a8" stroke="#8848a8" stroke-width="0.5"/><polygon points="1046.84,168.73 1057.45,168.49 1058.06,158.54 1047.39,158.80" fill="#8c48a8" stroke="#8c48a8" stroke-width="0.5"/><polygon points="1057.45,168.49 1065.50,168.31 1066.17,158.33 1058.06,158.54" fill="#a038a0" stroke="#a038a0" stroke-width="0.5"/><polygon points="1065.50,168.31 1071.82,168.17 1072.54,158.17 1066.17,158.33" fill="#b82878" stroke="#b82878" stroke-width="0.5"/><polygon points="756.20,164.69 794.59,164.32 794.59,157.37 756.20,157.77" fill="#6648aa" stroke="#6648aa" stroke-width="0.5"/><polygon points="794.59,164.32 831.51,163.75 831.51,156.74 794.59,157.37" fill="#6648aa" stroke="#6648aa" stroke-width="0.5"/><polygon points="831.51,163.75 865.37,163.12 865.38,156.04 831.51,156.74" fill="#6648aa" stroke="#6648aa" stroke-width="0.5"/><polygon points="865.37,163.12 895.88,162.48 895.91,155.34 865.38,156.04" fill="#6648aa" stroke="#6648aa" stroke-width="0.5"/><polygon points="895.88,162.48 924.45,161.83 924.50,154.63 895.91,155.34" fill="#6a50b0" stroke="#6a50b0" stroke-width="0.5"/><polygon points="924.45,161.83 951.51,161.19 951.61,153.93 924.50,154.63" fill="#6a50b0" stroke="#6a50b0" stroke-width="0.5"/><polygon points="951.51,161.19 975.89,160.60 976.04,153.28 951.61,153.93" fill="#6c52b0" stroke="#6c52b0" stroke-width="0.5"/><polygon points="975.89,160.60 997.50,160.06 997.71,152.69 976.04,153.28" fill="#7052ae" stroke="#7052ae" stroke-width="0.5"/><polygon points="997.50,160.06 1017.06,159.57 1017.34,152.15 997.71,152.69" fill="#7452ac" stroke="#7452ac" stroke-width="0.5"/><polygon points="1017.06,159.57 1032.51,159.18 1032.85,151.72 1017.34,152.15" fill="#7850aa" stroke="#7850aa" stroke-width="0.5"/><polygon points="1032.51,159.18 1047.39,158.80 1047.80,151.31 1032.85,151.72" fill="#8848a8" stroke="#8848a8" stroke-width="0.5"/><polygon points="1047.39,158.80 1058.06,158.54 1058.53,151.01 1047.80,151.31" fill="#9840a4" stroke="#9840a4" stroke-width="0.5"/><polygon points="1058.06,158.54 1066.17,158.33 1066.69,150.79 1058.53,151.01" fill="#b82888" stroke="#b82888" stroke-width="0.5"/><polygon points="1066.17,158.33 1072.54,158.17 1073.10,150.61 1066.69,150.79" fill="#c02048" stroke="#c02048" stroke-width="0.5"/><polygon points="756.20,157.77 794.59,157.37 794.59,151.95 756.20,152.38" fill="#6850b0" stroke="#6850b0" stroke-width="0.5"/><polygon points="794.59,157.37 831.51,156.74 831.52,151.28 794.59,151.95" fill="#6a50b0" stroke="#6a50b0" stroke-width="0.5"/><polygon points="831.51,156.74 865.38,156.04 865.39,150.53 831.52,151.28" fill="#6a50b0" stroke="#6a50b0" stroke-width="0.5"/><polygon points="865.38,156.04 895.91,155.34 895.93,149.77 865.39,150.53" fill="#6a50b0" stroke="#6a50b0" stroke-width="0.5"/><polygon points="895.91,155.34 924.50,154.63 924.54,149.02 895.93,149.77" fill="#6a50b0" stroke="#6a50b0" stroke-width="0.5"/><polygon points="924.50,154.63 951.61,153.93 951.68,148.26 924.54,149.02" fill="#6a50b0" stroke="#6a50b0" stroke-width="0.5"/><polygon points="951.61,153.93 976.04,153.28 976.16,147.56 951.68,148.26" fill="#6c52b0" stroke="#6c52b0" stroke-width="0.5"/><polygon points="976.04,153.28 997.71,152.69 997.87,146.93 976.16,147.56" fill="#7052ae" stroke="#7052ae" stroke-width="0.5"/><polygon points="997.71,152.69 1017.34,152.15 1017.56,146.35 997.87,146.93" fill="#7452ac" stroke="#7452ac" stroke-width="0.5"/><polygon points="1017.34,152.15 1032.85,151.72 1033.12,145.89 1017.56,146.35" fill="#8048a8" stroke="#8048a8" stroke-width="0.5"/><polygon points="1032.85,151.72 1047.80,151.31 1048.12,145.45 1033.12,145.89" fill="#8c48a8" stroke="#8c48a8" stroke-width="0.5"/><polygon points="1047.80,151.31 1058.53,151.01 1058.90,145.13 1048.12,145.45" fill="#a838a0" stroke="#a838a0" stroke-width="0.5"/><polygon points="1058.53,151.01 1066.69,150.79 1067.09,144.89 1058.90,145.13" fill="#c02048" stroke="#c02048" stroke-width="0.5"/><polygon points="1066.69,150.79 1073.10,150.61 1073.54,144.70 1067.09,144.89" fill="#c82030" stroke="#c82030" stroke-width="0.5"/></g></g>
<polyline points="99.1,230.0 315.0,230.0 315.0,445.2" fill="none" stroke="#ffffff" stroke-opacity="0.62" stroke-width="2"/>
<polyline points="765.7,230.0 981.6,230.0 981.6,445.2" fill="none" stroke="#ffffff" stroke-opacity="0.62" stroke-width="2"/>
<g stroke="#262626" stroke-width="2.1" filter="url(#tb)"><line x1="134.78" y1="455.0" x2="134.78" y2="446.0"/><line x1="134.78" y1="48.2" x2="134.78" y2="57.2"/><line x1="89.6" y1="409.80" x2="98.6" y2="409.80"/><line x1="496.2" y1="409.80" x2="487.2" y2="409.80"/><line x1="179.96" y1="455.0" x2="179.96" y2="446.0"/><line x1="179.96" y1="48.2" x2="179.96" y2="57.2"/><line x1="89.6" y1="364.60" x2="98.6" y2="364.60"/><line x1="496.2" y1="364.60" x2="487.2" y2="364.60"/><line x1="225.13" y1="455.0" x2="225.13" y2="446.0"/><line x1="225.13" y1="48.2" x2="225.13" y2="57.2"/><line x1="89.6" y1="319.40" x2="98.6" y2="319.40"/><line x1="496.2" y1="319.40" x2="487.2" y2="319.40"/><line x1="270.31" y1="455.0" x2="270.31" y2="446.0"/><line x1="270.31" y1="48.2" x2="270.31" y2="57.2"/><line x1="89.6" y1="274.20" x2="98.6" y2="274.20"/><line x1="496.2" y1="274.20" x2="487.2" y2="274.20"/><line x1="315.49" y1="455.0" x2="315.49" y2="446.0"/><line x1="315.49" y1="48.2" x2="315.49" y2="57.2"/><line x1="89.6" y1="229.00" x2="98.6" y2="229.00"/><line x1="496.2" y1="229.00" x2="487.2" y2="229.00"/><line x1="360.67" y1="455.0" x2="360.67" y2="446.0"/><line x1="360.67" y1="48.2" x2="360.67" y2="57.2"/><line x1="89.6" y1="183.80" x2="98.6" y2="183.80"/><line x1="496.2" y1="183.80" x2="487.2" y2="183.80"/><line x1="405.84" y1="455.0" x2="405.84" y2="446.0"/><line x1="405.84" y1="48.2" x2="405.84" y2="57.2"/><line x1="89.6" y1="138.60" x2="98.6" y2="138.60"/><line x1="496.2" y1="138.60" x2="487.2" y2="138.60"/><line x1="451.02" y1="455.0" x2="451.02" y2="446.0"/><line x1="451.02" y1="48.2" x2="451.02" y2="57.2"/><line x1="89.6" y1="93.40" x2="98.6" y2="93.40"/><line x1="496.2" y1="93.40" x2="487.2" y2="93.40"/><rect x="89.6" y="48.2" width="406.60" height="406.80" fill="none"/></g>
<defs><linearGradient id="cb0" x1="0" y1="1" x2="0" y2="0"><stop offset="0.000" stop-color="#1a0a18"/><stop offset="0.035" stop-color="#2a0c38"/><stop offset="0.070" stop-color="#3c1468"/><stop offset="0.110" stop-color="#50249a"/><stop offset="0.143" stop-color="#5a30a8"/><stop offset="0.180" stop-color="#6040b0"/><stop offset="0.220" stop-color="#6648b0"/><stop offset="0.286" stop-color="#6e50b0"/><stop offset="0.330" stop-color="#8048ac"/><stop offset="0.360" stop-color="#9040a8"/><stop offset="0.400" stop-color="#a030a8"/><stop offset="0.430" stop-color="#b028a0"/><stop offset="0.450" stop-color="#c02060"/><stop offset="0.480" stop-color="#c82838"/><stop offset="0.520" stop-color="#c22a2c"/><stop offset="0.571" stop-color="#c83230"/><stop offset="0.640" stop-color="#d84a30"/><stop offset="0.714" stop-color="#e06030"/><stop offset="0.790" stop-color="#e87830"/><stop offset="0.857" stop-color="#f09830"/><stop offset="0.930" stop-color="#f5c025"/><stop offset="1.000" stop-color="#fcee10"/></linearGradient></defs>
<rect x="505.8" y="48.2" width="20.40" height="406.80" fill="url(#cb0)" stroke="#1a1a1a" stroke-width="1.6"/>
<g stroke="#1a1a1a" stroke-width="1.6"><line x1="505.8" y1="396.89" x2="512.8" y2="396.89"/><line x1="526.2" y1="396.89" x2="519.2" y2="396.89"/><line x1="505.8" y1="338.77" x2="512.8" y2="338.77"/><line x1="526.2" y1="338.77" x2="519.2" y2="338.77"/><line x1="505.8" y1="280.66" x2="512.8" y2="280.66"/><line x1="526.2" y1="280.66" x2="519.2" y2="280.66"/><line x1="505.8" y1="222.54" x2="512.8" y2="222.54"/><line x1="526.2" y1="222.54" x2="519.2" y2="222.54"/><line x1="505.8" y1="164.43" x2="512.8" y2="164.43"/><line x1="526.2" y1="164.43" x2="519.2" y2="164.43"/><line x1="505.8" y1="106.31" x2="512.8" y2="106.31"/><line x1="526.2" y1="106.31" x2="519.2" y2="106.31"/></g>
<g fill="#111" stroke="#111" stroke-width="0.12" filter="url(#tb)"><text transform="translate(292.90,18.00) scale(1.065,1)" text-anchor="middle" font-size="22">Active material, 2C, 0.25 microns</text><text transform="translate(91.20,495.00) scale(1.02,1)" text-anchor="middle" font-size="23">0</text><text transform="translate(70.40,462.30) scale(1.02,1)" text-anchor="end" font-size="23">0</text><text transform="translate(136.38,495.00) scale(1.02,1)" text-anchor="middle" font-size="23">0.2</text><text transform="translate(70.40,417.10) scale(1.02,1)" text-anchor="end" font-size="23">0.2</text><text transform="translate(181.56,495.00) scale(1.02,1)" text-anchor="middle" font-size="23">0.4</text><text transform="translate(70.40,371.90) scale(1.02,1)" text-anchor="end" font-size="23">0.4</text><text transform="translate(226.73,495.00) scale(1.02,1)" text-anchor="middle" font-size="23">0.6</text><text transform="translate(70.40,326.70) scale(1.02,1)" text-anchor="end" font-size="23">0.6</text><text transform="translate(271.91,495.00) scale(1.02,1)" text-anchor="middle" font-size="23">0.8</text><text transform="translate(70.40,281.50) scale(1.02,1)" text-anchor="end" font-size="23">0.8</text><text transform="translate(317.09,495.00) scale(1.02,1)" text-anchor="middle" font-size="23">1</text><text transform="translate(70.40,236.30) scale(1.02,1)" text-anchor="end" font-size="23">1</text><text transform="translate(362.27,495.00) scale(1.02,1)" text-anchor="middle" font-size="23">1.2</text><text transform="translate(70.40,191.10) scale(1.02,1)" text-anchor="end" font-size="23">1.2</text><text transform="translate(407.44,495.00) scale(1.02,1)" text-anchor="middle" font-size="23">1.4</text><text transform="translate(70.40,145.90) scale(1.02,1)" text-anchor="end" font-size="23">1.4</text><text transform="translate(452.62,495.00) scale(1.02,1)" text-anchor="middle" font-size="23">1.6</text><text transform="translate(70.40,100.70) scale(1.02,1)" text-anchor="end" font-size="23">1.6</text><text transform="translate(497.80,495.00) scale(1.02,1)" text-anchor="middle" font-size="23">1.8</text><text transform="translate(70.40,55.50) scale(1.02,1)" text-anchor="end" font-size="23">1.8</text><text transform="translate(545.60,462.50) scale(1.02,1)" font-size="23">0</text><text transform="translate(545.60,404.39) scale(1.02,1)" font-size="23">0.01</text><text transform="translate(545.60,346.27) scale(1.02,1)" font-size="23">0.02</text><text transform="translate(545.60,288.16) scale(1.02,1)" font-size="23">0.03</text><text transform="translate(545.60,230.04) scale(1.02,1)" font-size="23">0.04</text><text transform="translate(545.60,171.93) scale(1.02,1)" font-size="23">0.05</text><text transform="translate(545.60,113.81) scale(1.02,1)" font-size="23">0.06</text><text transform="translate(545.60,55.70) scale(1.02,1)" font-size="23">0.07</text><text transform="translate(292.70,531.70) scale(1.08,1)" text-anchor="middle" font-size="21">r/R</text><text transform="translate(293.80,563.30) scale(1.08,1)" text-anchor="middle" font-size="24">(a)</text><text transform="translate(16.40,251.80) rotate(-90) scale(1.06,1)" text-anchor="middle" font-size="21">z/Z</text><text transform="translate(620.30,252.80) rotate(-90) scale(1.09,1)" text-anchor="middle" font-size="21.5">equivalent tensile stress (GPa)</text></g>
<g stroke="#262626" stroke-width="2.1" filter="url(#tb)"><line x1="801.38" y1="455.0" x2="801.38" y2="446.0"/><line x1="801.38" y1="48.2" x2="801.38" y2="57.2"/><line x1="756.2" y1="409.80" x2="765.2" y2="409.80"/><line x1="1162.8" y1="409.80" x2="1153.8" y2="409.80"/><line x1="846.56" y1="455.0" x2="846.56" y2="446.0"/><line x1="846.56" y1="48.2" x2="846.56" y2="57.2"/><line x1="756.2" y1="364.60" x2="765.2" y2="364.60"/><line x1="1162.8" y1="364.60" x2="1153.8" y2="364.60"/><line x1="891.73" y1="455.0" x2="891.73" y2="446.0"/><line x1="891.73" y1="48.2" x2="891.73" y2="57.2"/><line x1="756.2" y1="319.40" x2="765.2" y2="319.40"/><line x1="1162.8" y1="319.40" x2="1153.8" y2="319.40"/><line x1="936.91" y1="455.0" x2="936.91" y2="446.0"/><line x1="936.91" y1="48.2" x2="936.91" y2="57.2"/><line x1="756.2" y1="274.20" x2="765.2" y2="274.20"/><line x1="1162.8" y1="274.20" x2="1153.8" y2="274.20"/><line x1="982.09" y1="455.0" x2="982.09" y2="446.0"/><line x1="982.09" y1="48.2" x2="982.09" y2="57.2"/><line x1="756.2" y1="229.00" x2="765.2" y2="229.00"/><line x1="1162.8" y1="229.00" x2="1153.8" y2="229.00"/><line x1="1027.27" y1="455.0" x2="1027.27" y2="446.0"/><line x1="1027.27" y1="48.2" x2="1027.27" y2="57.2"/><line x1="756.2" y1="183.80" x2="765.2" y2="183.80"/><line x1="1162.8" y1="183.80" x2="1153.8" y2="183.80"/><line x1="1072.44" y1="455.0" x2="1072.44" y2="446.0"/><line x1="1072.44" y1="48.2" x2="1072.44" y2="57.2"/><line x1="756.2" y1="138.60" x2="765.2" y2="138.60"/><line x1="1162.8" y1="138.60" x2="1153.8" y2="138.60"/><line x1="1117.62" y1="455.0" x2="1117.62" y2="446.0"/><line x1="1117.62" y1="48.2" x2="1117.62" y2="57.2"/><line x1="756.2" y1="93.40" x2="765.2" y2="93.40"/><line x1="1162.8" y1="93.40" x2="1153.8" y2="93.40"/><rect x="756.2" y="48.2" width="406.60" height="406.80" fill="none"/></g>
<defs><linearGradient id="cb666" x1="0" y1="1" x2="0" y2="0"><stop offset="0.000" stop-color="#1a0a18"/><stop offset="0.035" stop-color="#2a0c38"/><stop offset="0.070" stop-color="#3c1468"/><stop offset="0.110" stop-color="#50249a"/><stop offset="0.143" stop-color="#5a30a8"/><stop offset="0.180" stop-color="#6040b0"/><stop offset="0.220" stop-color="#6648b0"/><stop offset="0.286" stop-color="#6e50b0"/><stop offset="0.330" stop-color="#8048ac"/><stop offset="0.360" stop-color="#9040a8"/><stop offset="0.400" stop-color="#a030a8"/><stop offset="0.430" stop-color="#b028a0"/><stop offset="0.450" stop-color="#c02060"/><stop offset="0.480" stop-color="#c82838"/><stop offset="0.520" stop-color="#c22a2c"/><stop offset="0.571" stop-color="#c83230"/><stop offset="0.640" stop-color="#d84a30"/><stop offset="0.714" stop-color="#e06030"/><stop offset="0.790" stop-color="#e87830"/><stop offset="0.857" stop-color="#f09830"/><stop offset="0.930" stop-color="#f5c025"/><stop offset="1.000" stop-color="#fcee10"/></linearGradient></defs>
<rect x="1172.4" y="48.2" width="20.40" height="406.80" fill="url(#cb666)" stroke="#1a1a1a" stroke-width="1.6"/>
<g stroke="#1a1a1a" stroke-width="1.6"><line x1="1172.4" y1="404.15" x2="1179.4" y2="404.15"/><line x1="1192.8000000000002" y1="404.15" x2="1185.8000000000002" y2="404.15"/><line x1="1172.4" y1="353.30" x2="1179.4" y2="353.30"/><line x1="1192.8000000000002" y1="353.30" x2="1185.8000000000002" y2="353.30"/><line x1="1172.4" y1="302.45" x2="1179.4" y2="302.45"/><line x1="1192.8000000000002" y1="302.45" x2="1185.8000000000002" y2="302.45"/><line x1="1172.4" y1="251.60" x2="1179.4" y2="251.60"/><line x1="1192.8000000000002" y1="251.60" x2="1185.8000000000002" y2="251.60"/><line x1="1172.4" y1="200.75" x2="1179.4" y2="200.75"/><line x1="1192.8000000000002" y1="200.75" x2="1185.8000000000002" y2="200.75"/><line x1="1172.4" y1="149.90" x2="1179.4" y2="149.90"/><line x1="1192.8000000000002" y1="149.90" x2="1185.8000000000002" y2="149.90"/><line x1="1172.4" y1="99.05" x2="1179.4" y2="99.05"/><line x1="1192.8000000000002" y1="99.05" x2="1185.8000000000002" y2="99.05"/></g>
<g fill="#111" stroke="#111" stroke-width="0.12" filter="url(#tb)"><text transform="translate(959.50,18.00) scale(1.065,1)" text-anchor="middle" font-size="22">Active material, 2C, 2 microns</text><text transform="translate(757.80,495.00) scale(1.02,1)" text-anchor="middle" font-size="23">0</text><text transform="translate(737.00,462.30) scale(1.02,1)" text-anchor="end" font-size="23">0</text><text transform="translate(802.98,495.00) scale(1.02,1)" text-anchor="middle" font-size="23">0.2</text><text transform="translate(737.00,417.10) scale(1.02,1)" text-anchor="end" font-size="23">0.2</text><text transform="translate(848.16,495.00) scale(1.02,1)" text-anchor="middle" font-size="23">0.4</text><text transform="translate(737.00,371.90) scale(1.02,1)" text-anchor="end" font-size="23">0.4</text><text transform="translate(893.33,495.00) scale(1.02,1)" text-anchor="middle" font-size="23">0.6</text><text transform="translate(737.00,326.70) scale(1.02,1)" text-anchor="end" font-size="23">0.6</text><text transform="translate(938.51,495.00) scale(1.02,1)" text-anchor="middle" font-size="23">0.8</text><text transform="translate(737.00,281.50) scale(1.02,1)" text-anchor="end" font-size="23">0.8</text><text transform="translate(983.69,495.00) scale(1.02,1)" text-anchor="middle" font-size="23">1</text><text transform="translate(737.00,236.30) scale(1.02,1)" text-anchor="end" font-size="23">1</text><text transform="translate(1028.87,495.00) scale(1.02,1)" text-anchor="middle" font-size="23">1.2</text><text transform="translate(737.00,191.10) scale(1.02,1)" text-anchor="end" font-size="23">1.2</text><text transform="translate(1074.04,495.00) scale(1.02,1)" text-anchor="middle" font-size="23">1.4</text><text transform="translate(737.00,145.90) scale(1.02,1)" text-anchor="end" font-size="23">1.4</text><text transform="translate(1119.22,495.00) scale(1.02,1)" text-anchor="middle" font-size="23">1.6</text><text transform="translate(737.00,100.70) scale(1.02,1)" text-anchor="end" font-size="23">1.6</text><text transform="translate(1164.40,495.00) scale(1.02,1)" text-anchor="middle" font-size="23">1.8</text><text transform="translate(737.00,55.50) scale(1.02,1)" text-anchor="end" font-size="23">1.8</text><text transform="translate(1212.20,462.50) scale(1.02,1)" font-size="23">0</text><text transform="translate(1212.20,411.65) scale(1.02,1)" font-size="23">0.5</text><text transform="translate(1212.20,360.80) scale(1.02,1)" font-size="23">1</text><text transform="translate(1212.20,309.95) scale(1.02,1)" font-size="23">1.5</text><text transform="translate(1212.20,259.10) scale(1.02,1)" font-size="23">2</text><text transform="translate(1212.20,208.25) scale(1.02,1)" font-size="23">2.5</text><text transform="translate(1212.20,157.40) scale(1.02,1)" font-size="23">3</text><text transform="translate(1212.20,106.55) scale(1.02,1)" font-size="23">3.5</text><text transform="translate(1212.20,55.70) scale(1.02,1)" font-size="23">4</text><text transform="translate(959.30,531.70) scale(1.08,1)" text-anchor="middle" font-size="21">r/R</text><text transform="translate(959.90,563.30) scale(1.08,1)" text-anchor="middle" font-size="24">(b)</text><text transform="translate(683.00,251.80) rotate(-90) scale(1.06,1)" text-anchor="middle" font-size="21">z/Z</text><text transform="translate(1271.50,252.80) rotate(-90) scale(1.09,1)" text-anchor="middle" font-size="21.5">equivalent tensile stress (GPa)</text></g>
</svg></body></html>
